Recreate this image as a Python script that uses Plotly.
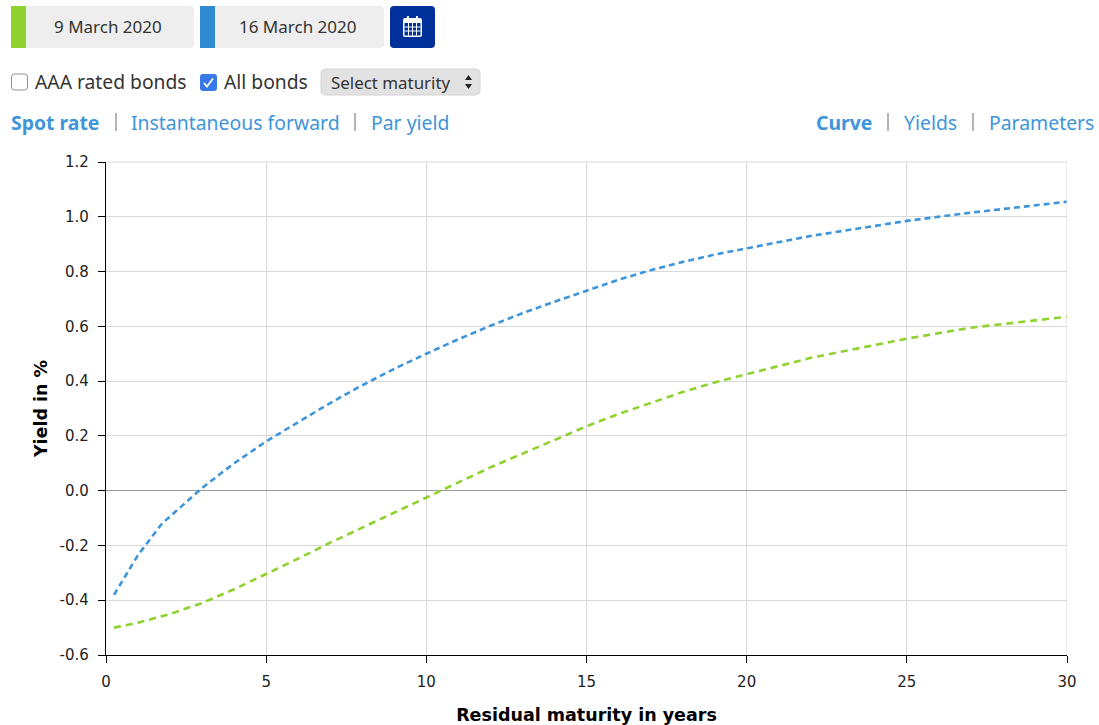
import plotly.graph_objects as go

W, H = 1099, 725
L, R, T, B = 106, 1067, 162, 655

maturity_blue = [0.25, 1, 1.75, 2.5, 3, 4, 5, 6, 7, 8, 9, 10, 11, 12, 13, 14, 15, 16, 17, 18, 19, 20, 22, 25, 27, 30]
yield_16_march = [-0.38, -0.235, -0.12, -0.04, 0.01, 0.10, 0.18, 0.25, 0.32, 0.385, 0.445, 0.50, 0.553, 0.602, 0.648,
                  0.69, 0.73, 0.77, 0.805, 0.835, 0.862, 0.885, 0.93, 0.985, 1.015, 1.055]
maturity_green = [0.25, 1, 2, 3, 4, 5, 6, 7, 8, 9, 10, 11, 12, 13, 14, 15, 16, 17, 18, 19, 20, 22, 25, 27, 30]
yield_9_march = [-0.50, -0.482, -0.45, -0.41, -0.36, -0.305, -0.248, -0.19, -0.135, -0.08, -0.025, 0.03, 0.085, 0.135,
                 0.185, 0.235, 0.28, 0.32, 0.36, 0.395, 0.425, 0.485, 0.555, 0.595, 0.635]
x_ticks = [0, 5, 10, 15, 20, 25, 30]
y_ticks = [-0.6, -0.4, -0.2, 0.0, 0.2, 0.4, 0.6, 0.8, 1.0, 1.2]
y_tick_labels = ["-0.6", "-0.4", "-0.2", "0.0", "0.2", "0.4", "0.6", "0.8", "1.0", "1.2"]

BLUE = "#3e95da"
GREEN = "#8fd22f"
GREY = "#d9d9d9"
UI_FONT = "Noto Sans"
CHART_FONT = "DejaVu Sans"


def px(x):
    return (x - L) / (R - L)


def py(y):
    return (B - y) / (B - T)


def rect(x0, y0, x1, y1, fill, line=None, radius=0):
    if radius:
        r = radius
        pts = [("M", x0 + r, y0), ("L", x1 - r, y0), ("Q", x1, y0, x1, y0 + r), ("L", x1, y1 - r),
               ("Q", x1, y1, x1 - r, y1), ("L", x0 + r, y1), ("Q", x0, y1, x0, y1 - r), ("L", x0, y0 + r),
               ("Q", x0, y0, x0 + r, y0)]
        path = ""
        for p in pts:
            if p[0] == "Q":
                path += f"Q{px(p[1])},{py(p[2])} {px(p[3])},{py(p[4])} "
            else:
                path += f"{p[0]}{px(p[1])},{py(p[2])} "
        return dict(type="path", path=path + "Z", xref="paper", yref="paper", fillcolor=fill,
                    line=dict(color=line or fill, width=1 if line else 0), layer="above")
    return dict(type="rect", x0=px(x0), y0=py(y0), x1=px(x1), y1=py(y1), xref="paper", yref="paper", fillcolor=fill,
                line=dict(color=line or fill, width=1 if line else 0), layer="above")


def seg(x0, y0, x1, y1, color, width=1):
    return dict(type="line", x0=px(x0), y0=py(y0), x1=px(x1), y1=py(y1), xref="paper", yref="paper",
                line=dict(color=color, width=width), layer="above")


def poly(points, fill=None, line=None, width=0):
    path = "M" + " L".join(f"{px(a)},{py(b)}" for a, b in points)
    if fill:
        path += " Z"
    s = dict(type="path", path=path, xref="paper", yref="paper", layer="above",
             line=dict(color=line or fill, width=width))
    if fill:
        s["fillcolor"] = fill
    return s


def label(x, y, text, color="#333333", size=16, anchor="left", bold=False, font=UI_FONT):
    return dict(x=px(x), y=py(y), xref="paper", yref="paper", text=f"<b>{text}</b>" if bold else text,
                showarrow=False, xanchor=anchor, yanchor="middle", xshift=0, borderpad=0, borderwidth=0,
                font=dict(family=font, size=size, color=color))


fig = go.Figure()
fig.add_trace(go.Scatter(x=maturity_blue, y=yield_16_march, mode="lines", name="16 March 2020",
                         line=dict(color=BLUE, width=2.6, dash="6px,4px")))
fig.add_trace(go.Scatter(x=maturity_green, y=yield_9_march, mode="lines", name="9 March 2020",
                         line=dict(color=GREEN, width=2.6, dash="7px,5px")))

shapes = [
    rect(11, 6, 194, 48, "#eeeeee", radius=4),
    rect(11, 6, 26, 48, GREEN),
    rect(200, 6, 384, 48, "#eeeeee", radius=4),
    rect(200, 6, 215, 48, "#2f89d3"),
    rect(390, 6, 435, 48, "#00309a", radius=4),
    rect(403, 18, 422, 37, "#ffffff", radius=2),
    rect(404.5, 23, 420.5, 35.5, "#00309a"),
    rect(407, 16, 409, 20, "#ffffff"),
    rect(416, 16, 418, 20, "#ffffff"),
    seg(408.5, 23, 408.5, 35.5, "#ffffff"), seg(412.5, 23, 412.5, 35.5, "#ffffff"),
    seg(416.5, 23, 416.5, 35.5, "#ffffff"), seg(404.5, 27, 420.5, 27, "#ffffff"),
    seg(404.5, 31, 420.5, 31, "#ffffff"),
    rect(11.5, 74, 27.5, 90, "#ffffff", "#8f8f8f", radius=3),
    rect(200, 74, 217, 91, "#3b78e7", radius=3),
    poly([(204, 83), (207, 86.5), (213, 78.5)], line="#ffffff", width=1.8),
    rect(321, 69, 480, 95, "#e2e2e2", "#d4d4d4", radius=5),
    poly([(465, 80), (468.5, 75), (472, 80)], fill="#222222"),
    poly([(465, 84), (468.5, 89), (472, 84)], fill="#222222"),
    seg(116, 113, 116, 131, "#8c8c8c", 1.3), seg(355, 113, 355, 131, "#8c8c8c", 1.3),
    seg(888, 113, 888, 131, "#8c8c8c", 1.3), seg(973, 113, 973, 131, "#8c8c8c", 1.3),
    dict(type="line", xref="x", yref="paper", x0=30, x1=30, y0=0, y1=1, line=dict(color=GREY, width=1)),
    dict(type="line", xref="paper", yref="paper", x0=0, x1=1, y0=1, y1=1, line=dict(color=GREY, width=1)),
]

annotations = [
    label(108, 26.5, "9 March 2020", anchor="center", size=17),
    label(297.5, 26.5, "16 March 2020", anchor="center", size=17),
    label(35, 81.5, "AAA rated bonds", size=19.3),
    label(224, 81.5, "All bonds", size=19.3),
    label(331, 82.5, "Select maturity", size=16.9),
    label(11, 123, "Spot rate", BLUE, 19.4, bold=True),
    label(131, 123, "Instantaneous forward", BLUE, 19.4),
    label(371, 123, "Par yield", BLUE, 19.4),
    label(816, 123, "Curve", BLUE, 19.4, bold=True),
    label(904, 123, "Yields", BLUE, 19.4),
    label(989, 123, "Parameters", BLUE, 19.4),
]

axis_title_font = dict(family=CHART_FONT, size=17.5, color="#000000")
tick_font = dict(family=CHART_FONT, size=15, color="#222222")
fig.update_layout(
    width=W, height=H, showlegend=False, plot_bgcolor="#ffffff", paper_bgcolor="#ffffff",
    margin=dict(l=L, r=W - R, t=T, b=H - B, autoexpand=False),
    xaxis=dict(range=[0, 30], tickvals=x_ticks, ticks="outside", ticklen=7, tickcolor="#000000", tickwidth=1,
               showgrid=True, gridcolor=GREY, gridwidth=1, zeroline=False, ticklabelstandoff=6,
               showline=True, linecolor="#000000", linewidth=1.3,
               tickfont=tick_font,
               title=dict(text="<b>Residual maturity in years</b>", font=axis_title_font, standoff=18)),
    yaxis=dict(range=[-0.6, 1.2], tickvals=y_ticks, ticktext=y_tick_labels, ticks="outside", ticklen=7,
               tickcolor="#000000", tickwidth=1, showgrid=True, gridcolor=GREY, gridwidth=1,
               zeroline=True, zerolinecolor="#9a9a9a", zerolinewidth=1, ticklabelstandoff=6,
               showline=True, linecolor="#000000", linewidth=1.3,
               tickfont=tick_font,
               title=dict(text="<b>Yield in %</b>", font=axis_title_font, standoff=7)),
    shapes=shapes,
    annotations=annotations,
)

fig.write_html("out.html", config={"displayModeBar": False},
               post_script="document.body.style.margin='0';document.body.style.overflow='hidden';")
